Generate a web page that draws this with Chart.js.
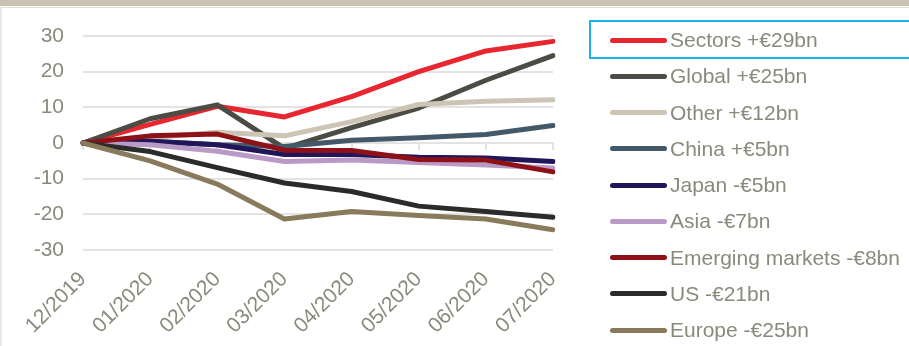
<!DOCTYPE html>
<html>
<head>
<meta charset="utf-8">
<script src="https://cdn.jsdelivr.net/npm/chart.js@4.4.1/dist/chart.umd.min.js"></script>
<style>
  html, body { margin: 0; padding: 0; background: #fff; overflow: hidden; }
  #wrap { position: relative; width: 909px; height: 346px; overflow: hidden; background: #fff; }
  #band { position: absolute; left: 0; top: 0; width: 909px; height: 6px; background: #c9c1b1; border-bottom: 1px solid #fff; box-shadow: 0 1px 0 #e3dfd6; z-index: 2; }
  #edge { position: absolute; left: 0; top: 7px; width: 2px; height: 339px; background: #ece8e1; z-index: 2; }
  #chartBox { position: absolute; left: 0; top: 0; width: 909px; height: 346px; }
  #highlight { position: absolute; left: 589px; top: 20px; width: 420px; height: 39px; box-sizing: border-box; border: 2px solid #1ab4ea; z-index: 1; }
  #legend { position: absolute; left: 610px; top: 21.875px; z-index: 3; font-family: "Liberation Sans", Arial, sans-serif; font-size: 21px; color: #8a8a7c; }
  .legend-row { display: flex; align-items: center; height: 36.25px; white-space: nowrap; }
  .legend-mark { display: inline-block; width: 57px; height: 5px; border-radius: 3px; margin-right: 3px; }
</style>
</head>
<body>
<div id="wrap">
  <div id="band"></div>
  <div id="edge"></div>
  <div id="chartBox"><canvas id="chart"></canvas></div>
  <div id="highlight"></div>
  <div id="legend"></div>
</div>
<script>
const MONTHS = ["12/2019", "01/2020", "02/2020", "03/2020", "04/2020", "05/2020", "06/2020", "07/2020"];

const SECTORS = [0, 5.2, 10.3, 7.3, 13, 20, 25.8, 28.5];
const GLOBAL = [0, 6.8, 10.7, -1.5, 4.3, 9.8, 17.6, 24.5];
const OTHER = [0, 1.5, 3, 2, 6, 10.8, 11.7, 12.1];
const CHINA = [0, 0.5, -0.5, -1, 0.8, 1.5, 2.4, 4.9];
const JAPAN = [0, 0.5, -0.5, -3.2, -3.2, -4, -4.2, -5.2];
const ASIA = [0, -0.5, -2.3, -5.2, -4.8, -5.5, -6.2, -7];
const EMERGING = [0, 2, 2.5, -2, -2.1, -4.6, -4.8, -8.1];
const US = [0, -2.4, -6.9, -11.2, -13.6, -17.7, -19.2, -20.8];
const EUROPE = [0, -5, -11.5, -21.3, -19.2, -20.3, -21.3, -24.3];

const Y_MIN = -30;
const Y_MAX = 30;
const Y_STEP = 10;

const SERIES = [
  { label: "Sectors +€29bn", data: SECTORS, color: "#e8262f" },
  { label: "Global +€25bn", data: GLOBAL, color: "#4b4d45" },
  { label: "Other +€12bn", data: OTHER, color: "#ccc4b4" },
  { label: "China +€5bn", data: CHINA, color: "#435869" },
  { label: "Japan -€5bn", data: JAPAN, color: "#21165a" },
  { label: "Asia -€7bn", data: ASIA, color: "#b99ac6" },
  { label: "Emerging markets -€8bn", data: EMERGING, color: "#8f1118" },
  { label: "US -€21bn", data: US, color: "#2a2c29" },
  { label: "Europe -€25bn", data: EUROPE, color: "#897a5c" },
];

const TEXT_COLOR = "#8a8a7c";
const GRID_COLOR = "#e3e3e3";

Chart.defaults.font.family = "'Liberation Sans', Arial, sans-serif";
Chart.defaults.font.size = 21;
Chart.defaults.color = TEXT_COLOR;

function buildDatasets() {
  // later series sit on top, like the spreadsheet original
  return SERIES.map((s, i) => ({
    label: s.label,
    data: s.data,
    borderColor: s.color,
    backgroundColor: s.color,
    borderWidth: 5,
    borderCapStyle: "round",
    borderJoinStyle: "round",
    pointRadius: 0,
    pointHoverRadius: 0,
    tension: 0,
    order: SERIES.length - 1 - i,
  }));
}

function buildLegend(chart) {
  const legend = document.getElementById("legend");
  legend.innerHTML = "";
  chart.data.datasets.forEach((ds) => {
    const row = document.createElement("div");
    row.className = "legend-row";
    const mark = document.createElement("span");
    mark.className = "legend-mark";
    mark.style.background = ds.borderColor;
    const text = document.createElement("span");
    text.textContent = ds.label;
    row.appendChild(mark);
    row.appendChild(text);
    legend.appendChild(row);
  });
}

const chart = new Chart(document.getElementById("chart"), {
  type: "line",
  data: {
    labels: MONTHS,
    datasets: buildDatasets(),
  },
  options: {
    responsive: true,
    maintainAspectRatio: false,
    animation: false,
    layout: { padding: { top: 36, right: 356, left: 0, bottom: 0 } },
    scales: {
      x: {
        type: "category",
        position: "bottom",
        grid: { display: false },
        border: { display: false },
        ticks: {
          autoSkip: false,
          minRotation: 45,
          maxRotation: 45,
          padding: 9,
          color: TEXT_COLOR,
        },
        afterFit: (scale) => {
          scale.height = 96;
        },
      },
      x0: {
        type: "category",
        axis: "x",
        position: { y: 0 },
        grid: { drawOnChartArea: false, drawTicks: true, tickLength: 6, color: GRID_COLOR, lineWidth: 2 },
        border: { display: true, color: GRID_COLOR, width: 2 },
        ticks: { display: false },
      },
      y: {
        min: Y_MIN,
        max: Y_MAX,
        ticks: { stepSize: Y_STEP, padding: 19, color: TEXT_COLOR },
        grid: { color: GRID_COLOR, lineWidth: 2, drawTicks: false },
        border: { display: false },
        afterFit: (scale) => {
          scale.width = 83;
        },
      },
    },
    plugins: {
      legend: { display: false },
      tooltip: { enabled: false },
    },
  },
});

buildLegend(chart);
</script>
</body>
</html>
